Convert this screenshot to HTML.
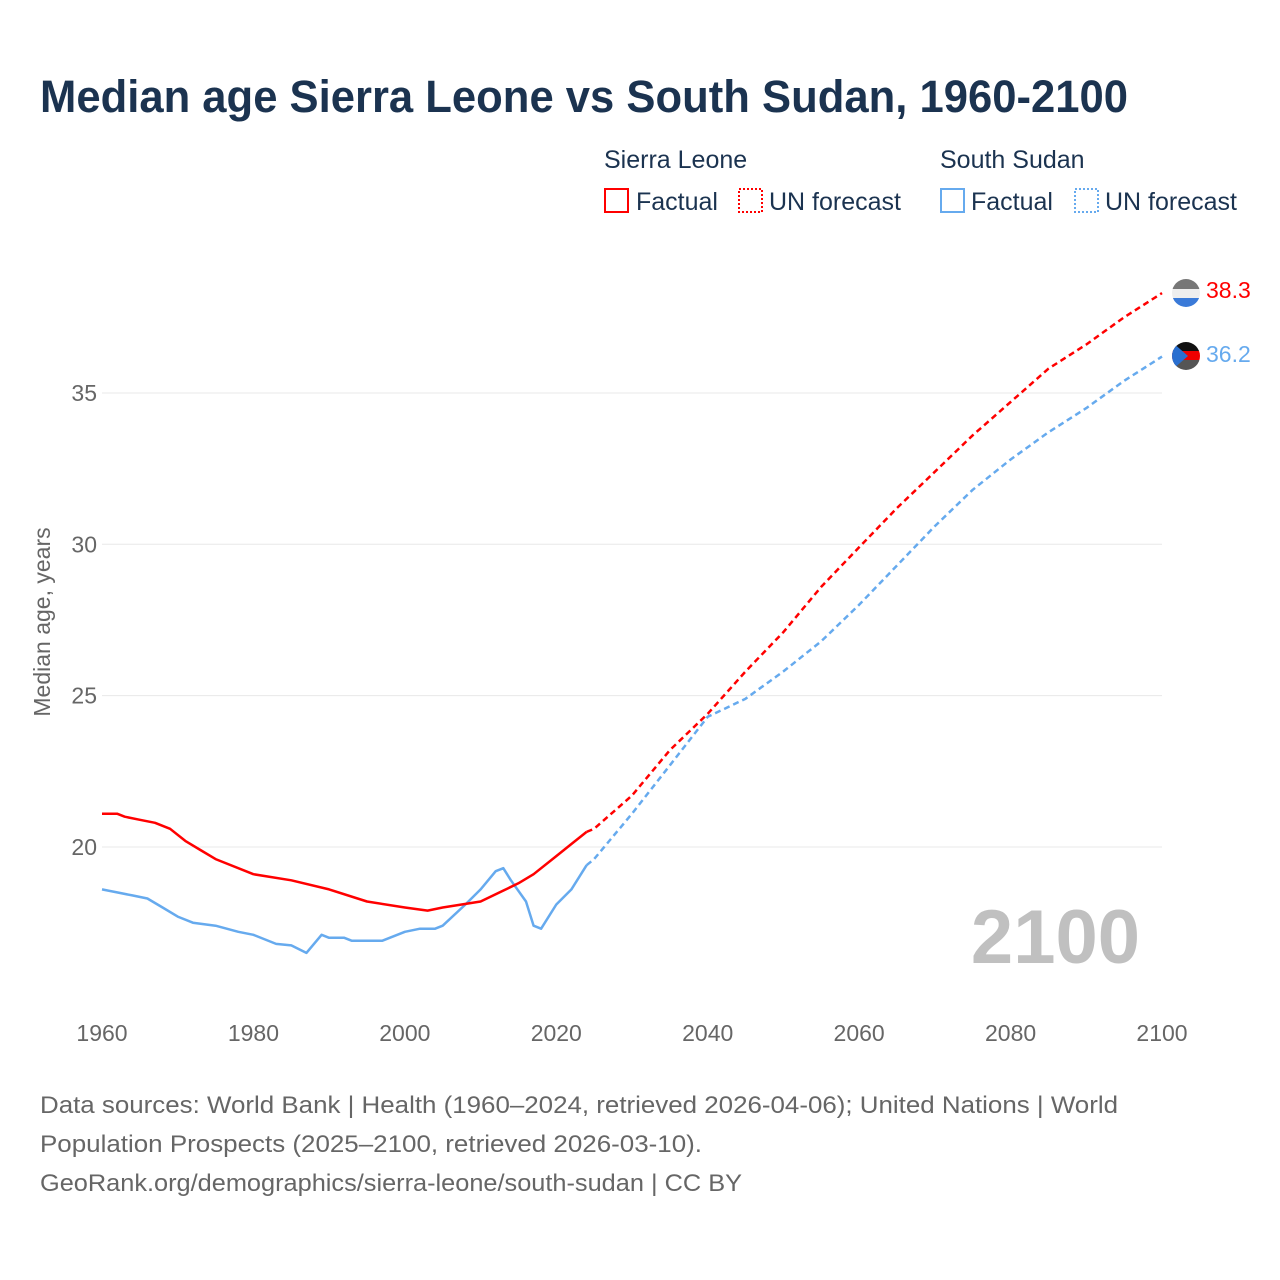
<!DOCTYPE html>
<html><head><meta charset="utf-8"><style>
html,body{margin:0;padding:0;background:#fff;}
svg{display:block;font-family:"Liberation Sans",sans-serif;}
</style></head><body>
<svg id="chart" width="1280" height="1280" viewBox="0 0 1280 1280">
<text x="40" y="112" font-size="45" font-weight="bold" fill="#1b3350" textLength="1088" lengthAdjust="spacingAndGlyphs">Median age Sierra Leone vs South Sudan, 1960-2100</text>
<g font-size="25" fill="#1b3350">
<text x="604" y="168">Sierra Leone</text>
<text x="940" y="168">South Sudan</text>
<rect x="605" y="189" width="23" height="23" fill="none" stroke="#ff0000" stroke-width="2"/>
<text x="636" y="210">Factual</text>
<rect x="739" y="189" width="23" height="23" fill="none" stroke="#ff0000" stroke-width="2" stroke-dasharray="2,2"/>
<text x="769" y="210">UN forecast</text>
<rect x="941" y="189" width="23" height="23" fill="none" stroke="#66aaee" stroke-width="2"/>
<text x="971" y="210">Factual</text>
<rect x="1075" y="189" width="23" height="23" fill="none" stroke="#66aaee" stroke-width="2" stroke-dasharray="2,2"/>
<text x="1105" y="210">UN forecast</text>
</g>
<text transform="translate(50,622) rotate(-90)" text-anchor="middle" font-size="23" fill="#666">Median age, years</text>
<g id="grid"></g><g id="yticks"></g><g id="xticks"></g>
<text x="1140" y="963" text-anchor="end" font-size="76" font-weight="bold" fill="#c0c0c0">2100</text>
<g id="series"></g>
<g>
<clipPath id="c1"><circle cx="1186" cy="293" r="14"/></clipPath>
<g clip-path="url(#c1)"><rect x="1172" y="279" width="28" height="10" fill="#777"/><rect x="1172" y="289" width="28" height="9" fill="#eee"/><rect x="1172" y="298" width="28" height="10" fill="#3a7ad8"/></g></g>
<g>
<clipPath id="c2"><circle cx="1186" cy="356" r="14"/></clipPath>
<g clip-path="url(#c2)"><rect x="1172" y="342" width="28" height="9" fill="#111"/><rect x="1172" y="351" width="28" height="9" fill="#e00"/><rect x="1172" y="360" width="28" height="10" fill="#555"/><polygon points="1172,342 1188,356 1172,370" fill="#2a6fd0"/></g></g>
<text x="1206" y="298" font-size="23" fill="#ff0000">38.3</text>
<text x="1206" y="362" font-size="23" fill="#66aaee">36.2</text>
<g font-size="24" fill="#666">
<text x="40" y="1113" textLength="1078" lengthAdjust="spacingAndGlyphs">Data sources: World Bank | Health (1960–2024, retrieved 2026-04-06); United Nations | World</text>
<text x="40" y="1152" textLength="662" lengthAdjust="spacingAndGlyphs">Population Prospects (2025–2100, retrieved 2026-03-10).</text>
<text x="40" y="1191" textLength="702" lengthAdjust="spacingAndGlyphs">GeoRank.org/demographics/sierra-leone/south-sudan | CC BY</text>
</g>
</svg>
<script>
const yTickValues=[20,25,30,35];
const xTickValues=[1960,1980,2000,2020,2040,2060,2080,2100];
const slFactYears=[1960,1962,1963,1965,1967,1969,1971,1973,1975,1980,1985,1990,1995,2000,2003,2005,2010,2015,2017,2020,2022,2024];
const slFactVals=[21.1,21.1,21.0,20.9,20.8,20.6,20.2,19.9,19.6,19.1,18.9,18.6,18.2,18.0,17.9,18.0,18.2,18.8,19.1,19.7,20.1,20.5];
const slFcYears=[2024,2025,2030,2035,2040,2045,2050,2055,2060,2065,2070,2075,2080,2085,2090,2095,2100];
const slFcVals=[20.5,20.6,21.7,23.2,24.4,25.8,27.1,28.6,29.9,31.2,32.4,33.6,34.7,35.8,36.6,37.5,38.3];
const ssFactYears=[1960,1962,1964,1966,1968,1970,1972,1975,1978,1980,1983,1985,1987,1989,1990,1992,1993,1997,2000,2002,2004,2005,2008,2010,2012,2013,2014,2016,2017,2018,2020,2022,2024];
const ssFactVals=[18.6,18.5,18.4,18.3,18.0,17.7,17.5,17.4,17.2,17.1,16.8,16.75,16.5,17.1,17.0,17.0,16.9,16.9,17.2,17.3,17.3,17.4,18.1,18.6,19.2,19.3,18.9,18.2,17.4,17.3,18.1,18.6,19.4];
const ssFcYears=[2024,2025,2030,2035,2040,2045,2050,2055,2060,2065,2070,2075,2080,2085,2090,2095,2100];
const ssFcVals=[19.4,19.6,21.1,22.7,24.3,24.9,25.8,26.8,28.0,29.3,30.6,31.8,32.8,33.7,34.5,35.4,36.2];
const NS='http://www.w3.org/2000/svg';
const xS=y=>102+(y-1960)*(1060/140);
const yS=v=>847-(v-20)*30.27;
function mk(tag,attrs,parent){const e=document.createElementNS(NS,tag);for(const k in attrs)e.setAttribute(k,attrs[k]);document.getElementById(parent).appendChild(e);return e;}
yTickValues.forEach(v=>{
 const l=mk('line',{x1:102,x2:1162,y1:yS(v),y2:yS(v),stroke:'#e8e8e8','stroke-width':1},'grid');
 
 
 const t=mk('text',{x:97,y:yS(v)+8,'text-anchor':'end','font-size':23,fill:'#666'},'yticks');
 t.textContent=v;
 
 
});
xTickValues.forEach(v=>{
 const t=mk('text',{x:xS(v),y:1041,'text-anchor':'middle','font-size':23,fill:'#666'},'xticks');
 t.textContent=v;
 
 
});
function line(xs,vs,color,dash,name){
 const d=xs.map((x,i)=>(i?'L':'M')+xS(x).toFixed(1)+','+yS(vs[i]).toFixed(1)).join('');
 const p=mk('path',{d:d,fill:'none',stroke:color,'stroke-width':2.5,'stroke-linejoin':'round'},'series');
 if(dash)p.setAttribute('stroke-dasharray',dash);
 
 
}
line(ssFactYears,ssFactVals,'#66aaee',null,'south-sudan-factual-line');
line(ssFcYears,ssFcVals,'#66aaee','6,4','south-sudan-forecast-line');
line(slFactYears,slFactVals,'#ff0000',null,'sierra-leone-factual-line');
line(slFcYears,slFcVals,'#ff0000','6,4','sierra-leone-forecast-line');
</script>
</body></html>
